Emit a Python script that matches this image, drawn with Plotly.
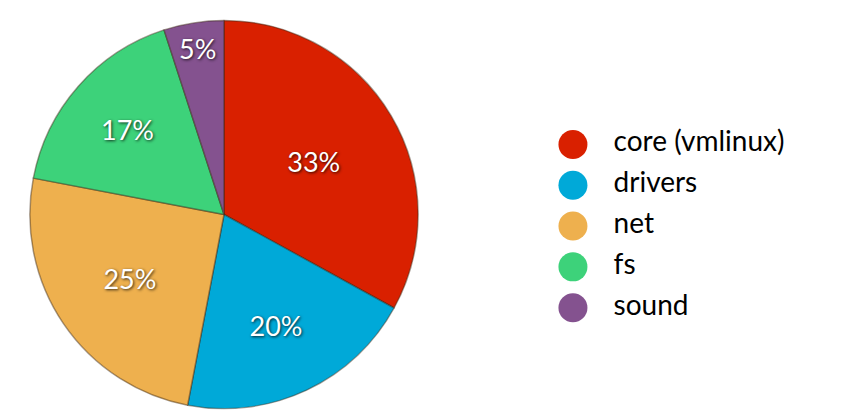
import plotly.graph_objects as go

labels = ["core (vmlinux)", "drivers", "net", "fs", "sound"]
values = [33, 20, 25, 17, 5]
colors = ["#d92000", "#00a9d8", "#eeb04e", "#3dd27a", "#84528f"]

fig = go.Figure()
fig.add_trace(go.Pie(
    labels=labels, values=values, sort=False, direction="clockwise", rotation=0,
    marker=dict(colors=colors, line=dict(color="rgba(60,40,20,0.45)", width=1.5)),
    texttemplate="%{percent:.0%}", textposition="inside", insidetextorientation="horizontal",
    textfont=dict(family="Lato", size=27, color="white", shadow="1px 1px 3px rgba(0,0,0,0.8)"),
    showlegend=False, domain=dict(x=[0.0, 0.51], y=[0.03, 0.97]), hoverinfo="skip",
))
# legend drawn as a scatter with big round markers
fig.add_trace(go.Scatter(
    x=[0] * len(labels), y=list(range(len(labels))), mode="markers+text",
    text=["   " + l for l in labels], textposition="middle right",
    textfont=dict(family="Lato", size=28, color="black"),
    marker=dict(symbol="circle", size=29, color=colors),
    cliponaxis=False, showlegend=False, hoverinfo="skip",
))

fig.update_layout(
    width=847, height=413, margin=dict(l=0, r=0, t=0, b=0),
    paper_bgcolor="white", plot_bgcolor="rgba(0,0,0,0)",
    xaxis=dict(visible=False, domain=[0.667, 1], range=[0, 1], fixedrange=True),
    yaxis=dict(visible=False, domain=[0.225, 0.719], range=[4.5, -0.5], fixedrange=True),
)
fig.write_html("out.html")
